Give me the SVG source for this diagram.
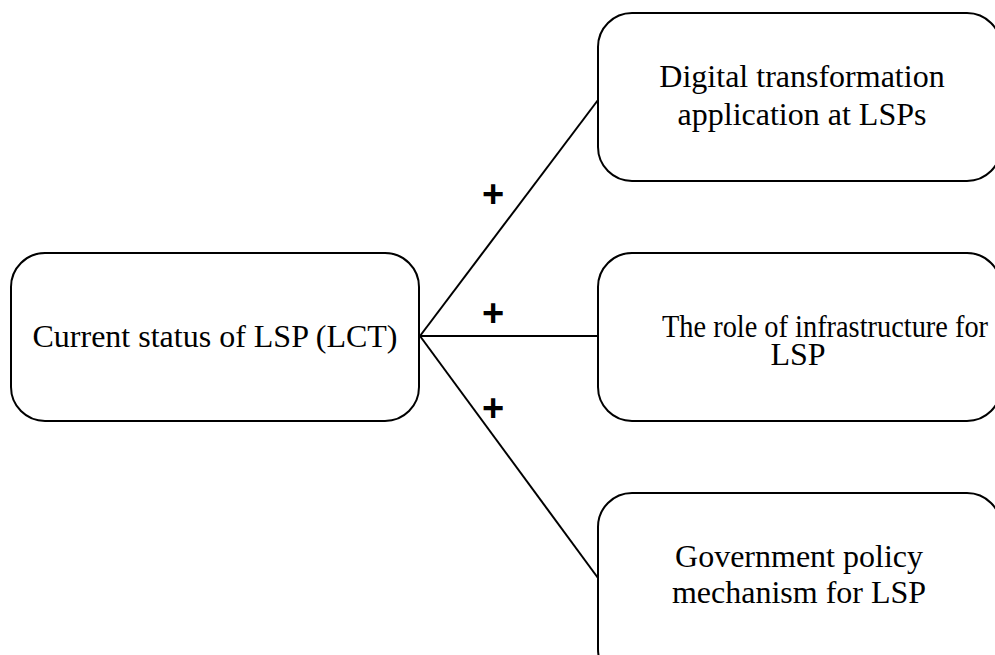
<svg xmlns="http://www.w3.org/2000/svg" width="995" height="655" viewBox="0 0 995 655">
<style>
.box{fill:#fff;stroke:#000;stroke-width:2}
.t{font-family:"Liberation Serif","Times New Roman",serif;font-size:32px;fill:#000;text-anchor:middle}
.p{font-family:"Liberation Sans",Arial,sans-serif;font-size:38px;font-weight:bold;fill:#000;text-anchor:middle}
.c{stroke:#000;stroke-width:2;fill:none}
</style>
<rect width="995" height="655" fill="#fff"/>
<g id="connectors">
<line class="c" x1="420" y1="336" x2="598" y2="100"/>
<line class="c" x1="420" y1="336" x2="598" y2="336"/>
<line class="c" x1="420" y1="336" x2="598" y2="578"/>
<text class="p" x="493" y="207">+</text>
<text class="p" x="493" y="326">+</text>
<text class="p" x="493" y="421">+</text>
</g>
<g id="lct">
<rect class="box" x="11" y="253" width="408" height="168" rx="34" ry="34"/>
<text class="t" x="215" y="347">Current status of LSP (LCT)</text>
</g>
<g id="digital">
<rect class="box" x="598" y="13" width="403" height="168" rx="34" ry="34"/>
<text class="t" x="802" y="87">Digital transformation</text>
<text class="t" x="802" y="125">application at LSPs</text>
</g>
<g id="infra">
<rect class="box" x="598" y="253" width="403" height="168" rx="34" ry="34"/>
<text class="t" x="825" y="337" textLength="326" lengthAdjust="spacingAndGlyphs">The role of infrastructure for</text>
<text class="t" x="798" y="365">LSP</text>
</g>
<g id="policy">
<rect class="box" x="598" y="493" width="403" height="190" rx="34" ry="34"/>
<text class="t" x="799" y="567">Government policy</text>
<text class="t" x="799" y="603">mechanism for LSP</text>
</g>
</svg>
